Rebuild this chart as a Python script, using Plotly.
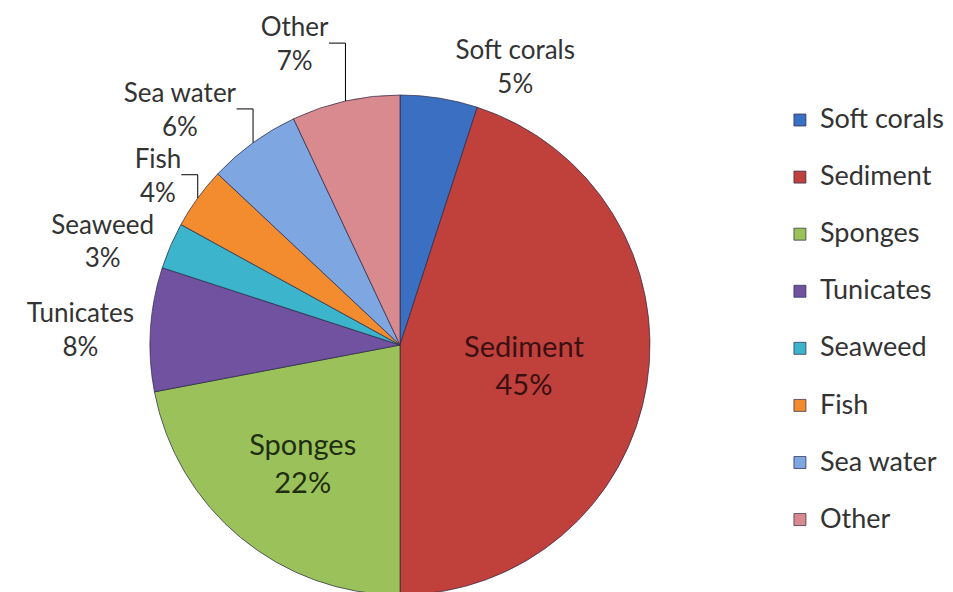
import plotly.graph_objects as go

categories = ["Soft corals", "Sediment", "Sponges", "Tunicates", "Seaweed", "Fish", "Sea water", "Other"]
values = [5, 45, 22, 8, 3, 4, 6, 7]
colors = ["#3a6fc2", "#c0403c", "#9bc25a", "#7152a0", "#3bb4cc", "#f28c2e", "#7ea6e0", "#d98a8e"]
positions = ["outside", "inside", "inside", "outside", "outside", "outside", "outside", "outside"]
text_colors = ["#333333", "#3a1010", "#1f2e10", "#333333", "#333333", "#333333", "#333333", "#333333"]
text_sizes = [26, 29, 29, 26, 26, 26, 26, 26]

FONT = "Lato, Open Sans, sans-serif"
LEGEND_SIZE = 27

# legend labels: visible text at legend size, plus an empty second line for spacing
legend_labels = [f"<span style='font-size:{LEGEND_SIZE}px'>{c}</span><br> " for c in categories]

# page is drawn with an 8px body margin; compensate so the figure lands like the reference
W, H = 953, 592
OFF = 8

fig = go.Figure(go.Pie(
    labels=legend_labels,
    values=values,
    text=categories,
    texttemplate="%{text}<br>%{percent:.0%}",
    textposition=positions,
    textfont=dict(family=FONT, size=text_sizes, color=text_colors),
    insidetextorientation="horizontal",
    marker=dict(colors=colors, line=dict(color="rgba(40,40,70,0.7)", width=1)),
    sort=False,
    direction="clockwise",
    rotation=0,
    hoverinfo="skip",
    domain=dict(x=[(150 - OFF) / W, (650 - OFF) / W], y=[(OFF - 3) / H, (497 + OFF) / H]),
))

fig.update_layout(
    width=W, height=H,
    margin=dict(l=0, r=0, t=0, b=0, autoexpand=False),
    paper_bgcolor="white",
    plot_bgcolor="white",
    font=dict(family=FONT, color="#333333"),
    showlegend=True,
    legend=dict(
        x=0.810, xanchor="left",
        y=0.8446, yanchor="top",
        font=dict(family=FONT, size=20.8, color="#333333"),
        valign="top",
        bgcolor="rgba(0,0,0,0)",
    ),
)

fig.write_html("out.html")
